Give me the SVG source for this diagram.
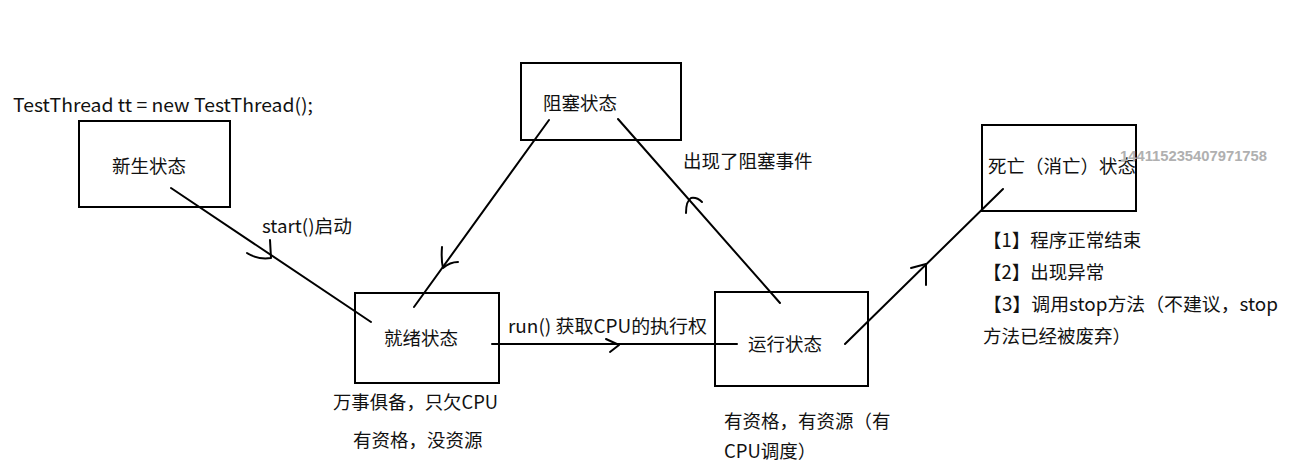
<svg xmlns="http://www.w3.org/2000/svg" width="1303" height="467" viewBox="0 0 1303 467">
<style>
.box{fill:none;stroke:#000;stroke-width:2}
.ln{fill:none;stroke:#000;stroke-width:2;stroke-linecap:round;stroke-linejoin:round}
text{font-family:"Noto Sans CJK SC","Microsoft YaHei","Noto Sans",sans-serif;font-size:18.5px;fill:#111}
.wm{font-family:"Liberation Sans",Arial,sans-serif;font-size:14px;font-weight:bold;fill:#b0b0b0}
</style>
<rect width="1303" height="467" fill="#fff"/>
<text x="13" y="112" textLength="300" lengthAdjust="spacingAndGlyphs">TestThread tt = new TestThread();</text>
<g id="connectors">
<line class="ln" x1="171" y1="188" x2="371" y2="322"/>
<path class="ln" d="M247,253 Q258,260 271,258 L270,240"/>
<line class="ln" x1="549" y1="120" x2="414" y2="307"/>
<path class="ln" d="M442,247 Q441,260 443,268 Q450,262 458,262"/>
<line class="ln" x1="780" y1="303" x2="618" y2="119"/>
<path class="ln" d="M686,213 Q686,201 691,198 Q697,197 702,202"/>
<line class="ln" x1="492" y1="344" x2="737" y2="344"/>
<path class="ln" d="M606,339 L619,345 L610,352"/>
<line class="ln" x1="845" y1="344" x2="1003" y2="189"/>
<path class="ln" d="M911,268 L926,264 L926,285"/>
</g>
<g id="node-new">
<rect class="box" x="79" y="121" width="151" height="86"/>
<text x="112" y="173">新生状态</text>
</g>
<g id="node-blocked">
<rect class="box" x="521" y="63" width="160" height="77"/>
<text x="543" y="110">阻塞状态</text>
</g>
<g id="node-ready">
<rect class="box" x="355" y="293" width="144" height="90"/>
<text x="384" y="345">就绪状态</text>
</g>
<g id="node-running">
<rect class="box" x="715" y="292" width="153" height="94"/>
<text x="748" y="351">运行状态</text>
</g>
<g id="node-dead">
<rect class="box" x="982" y="125" width="154" height="86"/>
<text x="988" y="173">死亡（消亡）状态</text>
</g>
<g id="labels">
<text x="262" y="233" textLength="90" lengthAdjust="spacingAndGlyphs">start()启动</text>
<text x="683" y="168">出现了阻塞事件</text>
<text x="508" y="333" textLength="199" lengthAdjust="spacingAndGlyphs">run() 获取CPU的执行权</text>
<text x="333" y="409" textLength="165" lengthAdjust="spacingAndGlyphs">万事俱备，只欠CPU</text>
<text x="353" y="447">有资格，没资源</text>
<text x="724" y="428">有资格，有资源（有</text>
<text x="724" y="458">CPU调度）</text>
<text x="983" y="247">【1】程序正常结束</text>
<text x="983" y="279">【2】出现异常</text>
<text x="983" y="311" textLength="295" lengthAdjust="spacingAndGlyphs">【3】调用stop方法（不建议，stop</text>
<text x="983" y="343">方法已经被废弃）</text>
</g>
<text class="wm" x="1120" y="161" textLength="147" lengthAdjust="spacingAndGlyphs">144115235407971758</text>
</svg>
